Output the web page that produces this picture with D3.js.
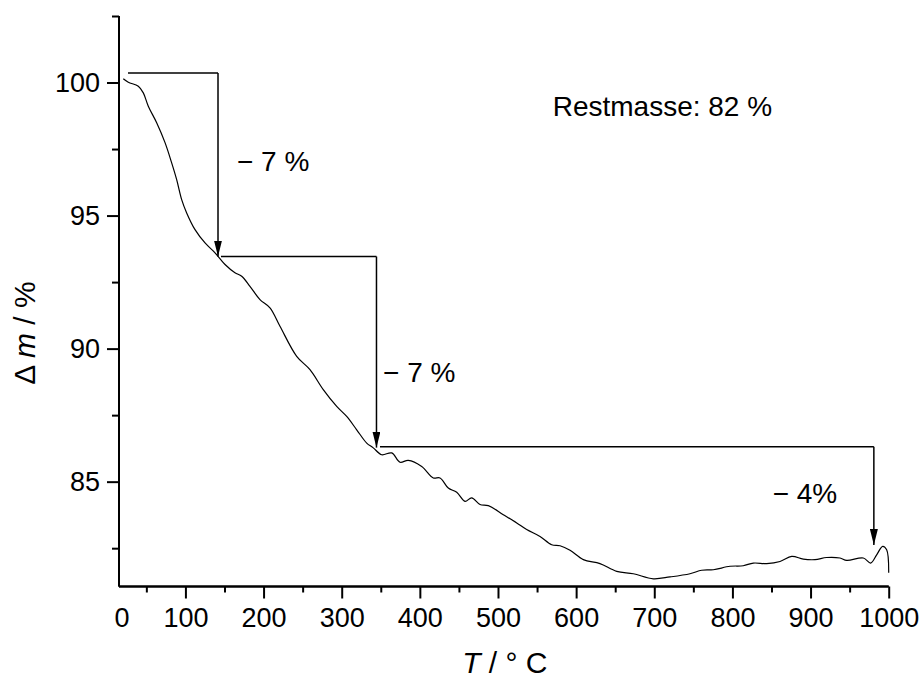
<!DOCTYPE html>
<html>
<head>
<meta charset="utf-8">
<script src="https://cdn.jsdelivr.net/npm/d3@7"></script>
<style>
  body { margin: 0; background: #fff; }
  svg { font-family: "Liberation Sans", Arial, sans-serif; }
</style>
</head>
<body>
<svg></svg>
<script>
// TGA curve (T in °C, mass in %)
const temps = [20.5, 26.9, 39.7, 46.1, 52.5, 63.2, 73.9, 82.4, 88.8, 95.2, 101.6, 112.3, 125.1, 137.9, 150.7, 163.4,
    172, 182.6, 195.4, 208.2, 221, 242.4, 259.4, 276.4, 293.6, 306.4, 319.2, 332, 340.4, 351.2, 364, 374.6, 385.2,
    402.4, 417.2, 425.8, 436.4, 447.2, 457.8, 466.3, 477, 487.6, 506.8, 524, 536.7, 553.8, 568.7, 579.4, 592.2,
    609.2, 630.5, 651.9, 673.2, 698.8, 720.1, 745.7, 760.7, 775.5, 796.9, 813.9, 826.7, 843.9, 860.9, 875.9,
    890.7, 905.7, 920.6, 937.7, 946.3, 967.5, 977, 984.6, 992.3, 997.4, 1000];
const masses = [100.14, 100.01, 99.86, 99.61, 99.11, 98.49, 97.74, 96.98, 96.35, 95.6, 95.1, 94.47, 93.97, 93.6, 93.16, 92.85,
    92.72, 92.34, 91.84, 91.53, 90.84, 89.71, 89.21, 88.46, 87.83, 87.45, 86.95, 86.45, 86.27, 86.01, 86.08, 85.73, 85.8,
    85.57, 85.14, 85.14, 84.76, 84.6, 84.26, 84.39, 84.14, 84.1, 83.76, 83.45, 83.2, 82.94, 82.63, 82.59, 82.42,
    82.07, 81.92, 81.63, 81.54, 81.35, 81.42, 81.54, 81.67, 81.69, 81.82, 81.84, 81.94, 81.92, 82.0, 82.19,
    82.09, 82.07, 82.15, 82.13, 82.04, 82.13, 81.94, 82.25, 82.57, 82.44, 81.58];

// mass-loss steps: horizontal start T, arrow T, level before, level after
const stepStart = [26.5, 145.5, 349];
const stepArrow = [141.7, 344.5, 981];
const stepFrom = [100.36, 93.46, 86.31];
const stepTo = [93.46, 86.28, 82.62];
const stepLabels = ["\u2212 7 %", "\u2212 7 %", "\u2212 4%"];
const stepLabelT = [166, 353, 851.5];
const stepLabelM = [96.69, 88.76, 84.21];

const noteText = "Restmasse: 82 %";
const noteT = 570, noteM = 98.73;

const xMajor = [100, 200, 300, 400, 500, 600, 700, 800, 900, 1000];
const xMinor = [50, 150, 250, 350, 450, 550, 650, 750, 850, 950];
const yMajor = [85, 90, 95, 100];
const yMinor = [82.5, 87.5, 92.5, 97.5, 102.5];

const width = 922, height = 680;
const svg = d3.select("svg").attr("width", width).attr("height", height);

const x = d3.scaleLinear().domain([15, 1000]).range([119, 888.7]);
const y = d3.scaleLinear().domain([81.06, 102.5]).range([586.5, 16]);

// x axis
const xAxis = svg.append("g").attr("transform", `translate(0,${y.range()[0]})`);
xAxis.append("g").call(d3.axisBottom(x).tickValues(xMinor).tickSize(6).tickFormat(""));
xAxis.append("g").call(d3.axisBottom(x).tickValues(xMajor).tickSize(12).tickPadding(9).tickFormat(d3.format("d")));
// the start of the axis carries the "0" label
xAxis.append("text")
    .attr("x", x.range()[0] + 3)
    .attr("y", 12 + 9)
    .attr("dy", "0.71em")
    .attr("text-anchor", "middle")
    .text("0");

// y axis
const yAxis = svg.append("g").attr("transform", `translate(${x.range()[0]},0)`);
yAxis.append("g").call(d3.axisLeft(y).tickValues(yMinor).tickSize(7).tickFormat(""));
yAxis.append("g").call(d3.axisLeft(y).tickValues(yMajor).tickSize(12).tickPadding(7).tickFormat(d3.format("d")));

svg.selectAll(".domain").attr("stroke-width", 2);
svg.selectAll(".tick line").attr("stroke-width", 2);
svg.selectAll(".tick text").style("font-size", "27px").attr("fill", "#000");
xAxis.selectAll("text").style("font-size", "27px").attr("fill", "#000");

// drop the outer tick stubs of the domain paths
xAxis.selectAll(".domain").attr("d", `M${x.range()[0]},0H${x.range()[1]}`);
yAxis.selectAll(".domain").attr("d", `M0,${y.range()[0]}V${y.range()[1]}`);

// axis titles
svg.append("text")
    .attr("x", (x.range()[0] + x.range()[1]) / 2 + 1)
    .attr("y", 673)
    .attr("text-anchor", "middle")
    .style("font-size", "30px")
    .html('<tspan font-style="italic">T</tspan> / \u00b0 C');

svg.append("text")
    .attr("transform", "translate(35,333) rotate(-90)")
    .attr("text-anchor", "middle")
    .style("font-size", "30px")
    .html('\u0394 <tspan font-style="italic">m</tspan> / %');

// curve
const line = d3.line()
    .x((d, i) => x(temps[i]))
    .y(d => y(d))
    .curve(d3.curveCatmullRom);

svg.append("path")
    .datum(masses)
    .attr("fill", "none")
    .attr("stroke", "#000")
    .attr("stroke-width", 1.2)
    .attr("d", line);

// arrow marker
svg.append("defs").append("marker")
    .attr("id", "arrow")
    .attr("markerUnits", "userSpaceOnUse")
    .attr("viewBox", "0 0 16 8")
    .attr("refX", 16)
    .attr("refY", 4)
    .attr("markerWidth", 16)
    .attr("markerHeight", 8)
    .attr("orient", "auto")
    .append("path")
    .attr("d", "M0,0L16,4L0,8Z")
    .attr("fill", "#000");

const steps = svg.append("g");
stepStart.forEach((s, i) => {
    steps.append("line")
        .attr("x1", x(s)).attr("x2", x(stepArrow[i]))
        .attr("y1", y(stepFrom[i])).attr("y2", y(stepFrom[i]))
        .attr("stroke", "#000").attr("stroke-width", 1.5);
    steps.append("line")
        .attr("x1", x(stepArrow[i])).attr("x2", x(stepArrow[i]))
        .attr("y1", y(stepFrom[i])).attr("y2", y(stepTo[i]))
        .attr("stroke", "#000").attr("stroke-width", 1.5)
        .attr("marker-end", "url(#arrow)");
    steps.append("text")
        .attr("x", x(stepLabelT[i]))
        .attr("y", y(stepLabelM[i]))
        .style("font-size", "28px")
        .text(stepLabels[i]);
});

svg.append("text")
    .attr("x", x(noteT))
    .attr("y", y(noteM))
    .style("font-size", "28px")
    .text(noteText);
</script>
</body>
</html>
